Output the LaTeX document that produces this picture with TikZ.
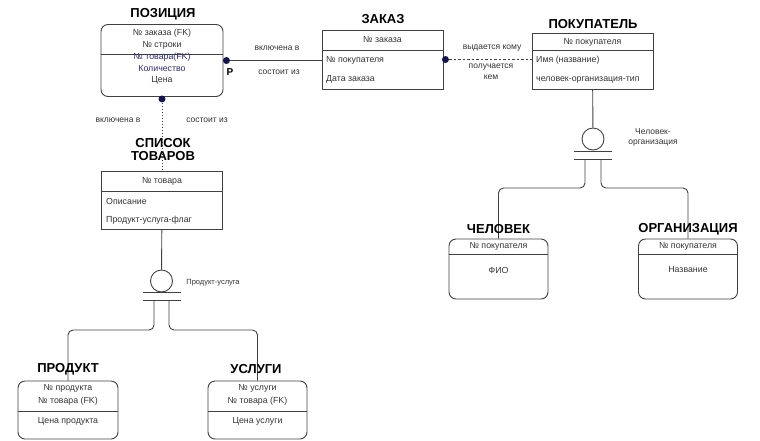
\documentclass[tikz,border=0pt]{standalone}
\usepackage{fontspec}
\setmainfont{Liberation Sans}
\usetikzlibrary{positioning,calc}
\definecolor{linec}{HTML}{404040}
\definecolor{txtc}{HTML}{333333}
\definecolor{dotc}{HTML}{14144A}
\definecolor{keyc}{HTML}{2E2E66}

\tikzset{
  entity/.style={draw=linec, line width=0.9pt, inner sep=0pt},
  depent/.style={entity, rounded corners=7pt},
  ttl/.style={font=\bfseries\fontsize{13}{14}\selectfont, inner sep=0pt, align=center},
  attr/.style={font=\fontsize{8.8}{10}\selectfont, text=txtc, inner sep=0pt},
  lbl/.style={font=\fontsize{8.5}{10}\selectfont, text=txtc, inner sep=0pt, align=center},
  dot/.style={circle, fill=dotc, inner sep=0pt, minimum size=7pt},
  catc/.style={circle, draw=linec, line width=0.9pt, minimum size=22pt, inner sep=0pt},
  conn/.style={draw=linec, line width=0.9pt}
}

\begin{document}
\begin{tikzpicture}[x=1pt, y=-1pt]
\useasboundingbox (0,0) rectangle (760,440);

% ПОЗИЦИЯ
\node[ttl] (pozt) at (163,14) {ПОЗИЦИЯ};
\node[depent, minimum width=122pt, minimum height=72pt] (poz) at (162,60.5) {};
\draw[conn] (poz.west |- 0,54) -- (poz.east |- 0,54);
\node[attr] (poz1) at (162,33) {№ заказа (FK)};
\node[attr] (poz2) at (162,45) {№ строки};
\node[attr, text=keyc] (poz3) at (162,57) {№ товара(FK)};
\node[attr, text=keyc] (poz4) at (162,68.5) {Количество};
\node[attr] (poz5) at (162,80) {Цена};

% ЗАКАЗ
\node[ttl] (zakt) at (383,19) {ЗАКАЗ};
\node[entity, minimum width=121pt, minimum height=59pt] (zak) at (382.5,59.5) {};
\draw[conn] (zak.west |- 0,50) -- (zak.east |- 0,50);
\node[attr] (zak1) at (382.5,40) {№ заказа};
\node[attr, anchor=west] (zak2) at (326,60) {№ покупателя};
\node[attr, anchor=west] (zak3) at (326,79) {Дата заказа};

% ПОКУПАТЕЛЬ
\node[ttl] (pokt) at (593,24) {ПОКУПАТЕЛЬ};
\node[entity, minimum width=121pt, minimum height=56pt] (pok) at (592.5,61) {};
\draw[conn] (pok.west |- 0,50) -- (pok.east |- 0,50);
\node[attr] (pok1) at (592.5,42) {№ покупателя};
\node[attr, anchor=west] (pok2) at (536,60) {Имя (название)};
\node[attr, anchor=west] (pok3) at (536,80) {человек-организация-тип};

% СПИСОК ТОВАРОВ
\node[ttl] (spist) at (163,149.5) {СПИСОК\\[-1pt]ТОВАРОВ};
\node[entity, minimum width=121pt, minimum height=58pt] (spis) at (162,200) {};
\draw[conn] (spis.west |- 0,191) -- (spis.east |- 0,191);
\node[attr] (spis1) at (162,181) {№ товара};
\node[attr, anchor=west] (spis2) at (106,201) {Описание};
\node[attr, anchor=west] (spis3) at (106,220) {Продукт-услуга-флаг};

% ЧЕЛОВЕК, ОРГАНИЗАЦИЯ
\node[depent, minimum width=99pt, minimum height=60pt] (chel) at (498.5,269) {};
\draw[conn] (chel.west |- 0,254) -- (chel.east |- 0,254);
\node[attr] (chel1) at (498.5,246) {№ покупателя};
\node[attr] (chel2) at (498.5,270) {ФИО};
\node[depent, minimum width=99pt, minimum height=60pt] (org) at (688,269) {};
\draw[conn] (org.west |- 0,254) -- (org.east |- 0,254);
\node[attr] (org1) at (688,246) {№ покупателя};
\node[attr] (org2) at (688,270) {Название};

% ПРОДУКТ, УСЛУГИ
\node[depent, minimum width=100pt, minimum height=58pt] (prod) at (68,410) {};
\draw[conn] (prod.west |- 0,411) -- (prod.east |- 0,411);
\node[attr] (prod1) at (68,388.5) {№ продукта};
\node[attr] (prod2) at (68,401) {№ товара (FK)};
\node[attr] (prod3) at (68,421) {Цена продукта};
\node[depent, minimum width=99pt, minimum height=58pt] (usl) at (257.5,410) {};
\draw[conn] (usl.west |- 0,411) -- (usl.east |- 0,411);
\node[attr] (usl1) at (257.5,388.5) {№ услуги};
\node[attr] (usl2) at (257.5,401) {№ товара (FK)};
\node[attr] (usl3) at (257.5,421) {Цена услуги};

% categories
\node[catc] (cat1) at (593,139) {};
\draw[conn] ($(cat1)+(-19,12)$) -- ++(38,0);
\draw[conn] ($(cat1)+(-19,20)$) -- ++(38,0);
\coordinate (cat1l) at ($(cat1)+(-8,20)$);
\coordinate (cat1r) at ($(cat1)+(8,20)$);
\node[lbl] (cat1t) at (653,137) {Человек-\\организация};
\draw[conn] (pok) -- (cat1);
\draw[conn, rounded corners=5pt] (cat1l) -- ++(0,29) -| (chel.north);
\draw[conn, rounded corners=5pt] (cat1r) -- ++(0,29) -| (org.north);

\node[catc] (cat2) at (161.5,281) {};
\draw[conn] ($(cat2)+(-19,11)$) -- ++(38,0);
\draw[conn] ($(cat2)+(-19,19)$) -- ++(38,0);
\coordinate (cat2l) at ($(cat2)+(-7.5,19)$);
\coordinate (cat2r) at ($(cat2)+(7.5,19)$);
\node[lbl, font=\fontsize{7.5}{9}\selectfont] (cat2t) at (213,283) {Продукт-услуга};
\draw[conn] (spis) -- (cat2);
\draw[conn, rounded corners=5pt] (cat2l) -- ++(0,30) -| (prod.north);
\draw[conn, rounded corners=5pt] (cat2r) -- ++(0,30) -| (usl.north);

% titles over the lines
\node[ttl] (chelt) at (498.5,229) {ЧЕЛОВЕК};
\node[ttl] (orgt) at (688,229) {ОРГАНИЗАЦИЯ};
\node[ttl] (prodt) at (68,369) {ПРОДУКТ};
\node[ttl] (uslt) at (256,369) {УСЛУГИ};

% relationships
\node[dot] (d1) at ([xshift=3pt]poz.east) {};
\draw[conn] (d1) -- (d1 -| zak.west);
\node[font=\bfseries\fontsize{10}{10}\selectfont, inner sep=0pt] (pmark) at (230,72) {P};
\node[lbl] (rel1a) at (277,48) {включена в};
\node[lbl] (rel1b) at (279,72) {состоит из};

\node[dot] (d2) at ([yshift=-2pt]poz.south) {};
\draw[conn, dash pattern=on 1.5pt off 1.5pt] (d2) -- (spis);
\node[lbl] (rel2a) at (118,120) {включена в};
\node[lbl] (rel2b) at (207,120) {состоит из};

\node[dot] (d3) at ([xshift=2pt]zak.east) {};
\draw[conn, dash pattern=on 2.5pt off 2pt] (d3) -- (d3 -| pok.west);
\node[lbl] (rel3a) at (492,48) {выдается кому};
\node[lbl, font=\fontsize{8.5}{11}\selectfont] (rel3b) at (491,72) {получается\\кем};
\end{tikzpicture}
\end{document}
